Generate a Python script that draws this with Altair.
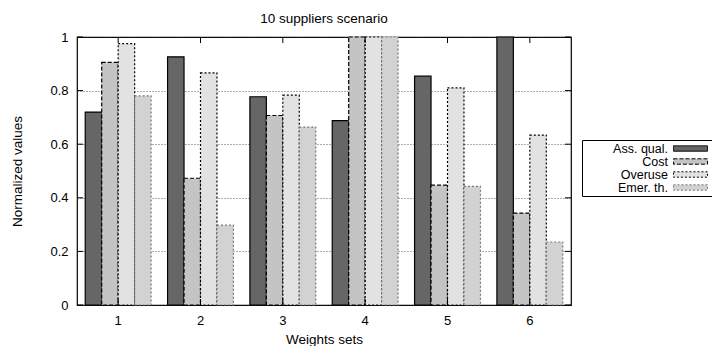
import altair as alt
import pandas as pd

groups = ["1", "2", "3", "4", "5", "6"]
series = ["Ass. qual.", "Cost", "Overuse", "Emer. th."]
ass_qual = [0.72, 0.926, 0.777, 0.688, 0.854, 1.0]
cost = [0.905, 0.473, 0.707, 1.0, 0.447, 0.343]
overuse = [0.975, 0.866, 0.783, 1.0, 0.81, 0.634]
emer = [0.78, 0.298, 0.664, 1.0, 0.443, 0.235]
y_ticks = [0, 0.2, 0.4, 0.6, 0.8, 1]

fills = ["#666666", "#c4c4c4", "#e2e2e2", "#d2d2d2"]
strokes = ["#000000", "#000000", "#000000", "#777777"]
dashes = [[1, 0], [4, 2], [2, 2], [2, 2]]

rows = []
for s, vals in zip(series, [ass_qual, cost, overuse, emer]):
    for g, v in zip(groups, vals):
        rows.append({"set": g, "series": s, "value": v})
df = pd.DataFrame(rows)
ytick_df = pd.DataFrame({"value": y_ticks})
xtick_df = pd.DataFrame({"set": groups})

W, H = 494, 268
FONT = "Liberation Sans"

xscale = alt.Scale(domain=groups, paddingInner=0.2, paddingOuter=0.1)
yscale = alt.Scale(domain=[0, 1], nice=False)

# key sample box drawn to the right of its (right-aligned) label, gnuplot style
key_box = "M13.83,-0.45L19.5,-0.45L19.5,0.45L13.83,0.45Z"

legend = alt.Legend(
    title=None, orient="none", legendX=505, legendY=103, direction="vertical",
    strokeColor="black", padding=2, symbolType=key_box,
    symbolSize=144, labelAlign="right", labelOffset=71,
    symbolOffset=0, labelFontSize=12.5, labelFont=FONT, labelColor="black",
    symbolStrokeWidth=1, rowPadding=0,
)

bars = alt.Chart(df).mark_bar(strokeWidth=1.2).encode(
    x=alt.X("set:N", scale=xscale, sort=groups,
            axis=alt.Axis(title="Weights sets", labelAngle=0, ticks=False, domain=False,
                          labelPadding=9, titlePadding=5)),
    xOffset=alt.XOffset("series:N", sort=series,
                        scale=alt.Scale(domain=series, paddingInner=0, paddingOuter=0)),
    y=alt.Y("value:Q", scale=yscale,
            axis=alt.Axis(title="Normalized values", values=y_ticks, format="~g", ticks=False,
                          domain=False, labelPadding=9, titlePadding=25, grid=True,
                          gridDash=[1, 2], gridColor="#333333", gridWidth=0.8)),
    fill=alt.Fill("series:N", sort=series, scale=alt.Scale(domain=series, range=fills), legend=legend),
    stroke=alt.Stroke("series:N", sort=series, scale=alt.Scale(domain=series, range=strokes), legend=legend),
    strokeDash=alt.StrokeDash("series:N", sort=series, scale=alt.Scale(domain=series, range=dashes), legend=legend),
)

yt_left = alt.Chart(ytick_df).mark_rule(color="black").encode(
    y=alt.Y("value:Q", scale=yscale), x=alt.value(0), x2=alt.value(6))
yt_right = alt.Chart(ytick_df).mark_rule(color="black").encode(
    y=alt.Y("value:Q", scale=yscale), x=alt.value(W - 6), x2=alt.value(W))
xt_bot = alt.Chart(xtick_df).mark_rule(color="black").encode(
    x=alt.X("set:N", scale=xscale, bandPosition=0.5), y=alt.value(H), y2=alt.value(H - 6))
xt_top = alt.Chart(xtick_df).mark_rule(color="black").encode(
    x=alt.X("set:N", scale=xscale, bandPosition=0.5), y=alt.value(0), y2=alt.value(6))

chart = alt.layer(bars, yt_left, yt_right, xt_bot, xt_top).properties(
    width=W, height=H,
    title=alt.Title("10 suppliers scenario", fontSize=13.5, font=FONT, fontWeight="normal",
                    offset=6, color="black"),
    autosize=alt.AutoSizeParams(type="none"),
    padding={"left": 69, "top": 29, "right": 141, "bottom": 41},
).configure_view(stroke="black", strokeWidth=1.2).configure_axis(
    labelFont=FONT, titleFont=FONT, labelFontSize=13, titleFontSize=13.5,
    titleFontWeight="normal", labelColor="black", titleColor="black",
)

chart.save("out.html", embed_options={"renderer": "svg", "actions": False})
